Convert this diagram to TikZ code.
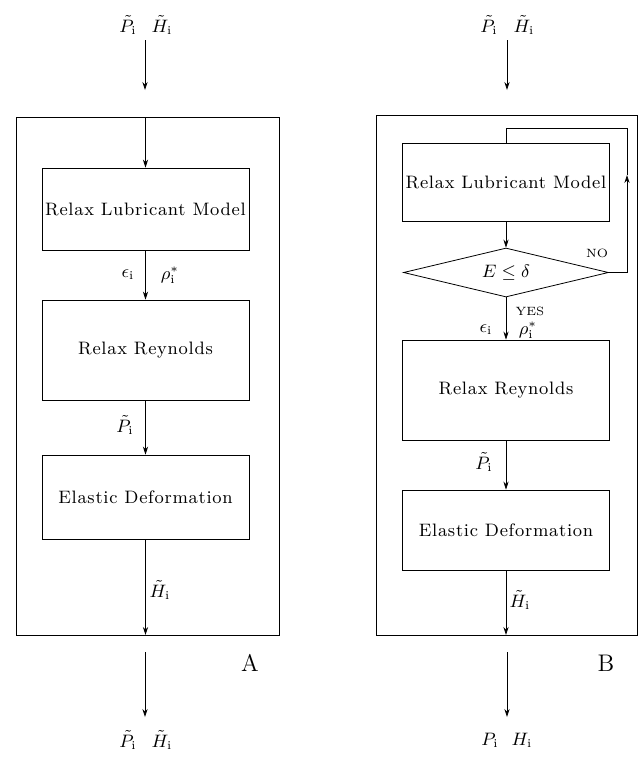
\documentclass[tikz,border=0pt]{standalone}
\usepackage{amsmath,amssymb}
\usepackage{fontspec}
\usepackage{tikz}
\usetikzlibrary{arrows.meta,positioning,shapes.geometric}
\newfontfamily\boxfont{Latin Modern Roman}[LetterSpace=4]

\begin{document}
\begin{tikzpicture}[
  x=0.5pt, y=-0.5pt,
  font=\fontsize{9}{11}\selectfont,
  block/.style={draw, thin, minimum width=103.5pt, inner sep=1pt, font=\boxfont\fontsize{9}{11}\selectfont},
  frame/.style={draw, thin},
  test/.style={draw, thin, diamond, aspect=4, minimum width=102.5pt, minimum height=24.5pt, inner sep=0pt},
  flow/.style={thin, -{Stealth[length=4pt,width=2.6pt]}},
  plain/.style={thin},
  varlabel/.style={inner sep=1pt},
  tag/.style={font=\fontsize{6}{7}\selectfont},
  panel/.style={font=\fontsize{12}{14}\selectfont}
]
\useasboundingbox (0,0) rectangle (641,757);

% ---------------- Scheme A ----------------
\node[varlabel] (inPA) at (128,25) {$\tilde{P}_{\mathrm{i}}$};
\node[varlabel] (inHA) at (162,25) {$\tilde{H}_{\mathrm{i}}$};
\coordinate (inAtail) at (145,40);
\coordinate (inAhead) at (145,90);
\draw[flow] (inAtail) -- (inAhead);

\draw[frame] (16,117) rectangle (279,635);
\coordinate (frameAtop) at (145.5,117);
\coordinate (frameAbot) at (145.5,635);

\node[block, minimum height=41pt] (rlmA) at (145.5,209) {Relax Lubricant Model};
\node[block, minimum height=50pt] (rrA) at (145.5,350) {Relax Reynolds};
\node[block, minimum height=42pt] (edA) at (145.5,497) {Elastic Deformation};

\draw[flow] (frameAtop) -- (rlmA);
\draw[flow] (rlmA) -- (rrA);
\draw[flow] (rrA) -- (edA);
\draw[flow] (edA) -- (frameAbot);

\node[varlabel] (epsA) at (128,275) {$\epsilon_{\mathrm{i}}$};
\node[varlabel] (rhoA) at (170,275) {$\rho_{\mathrm{i}}^{*}$};
\node[varlabel] (pA) at (125,425) {$\tilde{P}_{\mathrm{i}}$};
\node[varlabel] (hA) at (160,590) {$\tilde{H}_{\mathrm{i}}$};

\node[panel] (labA) at (250,663) {A};

\coordinate (outAtail) at (145,652);
\coordinate (outAhead) at (145,717);
\draw[flow] (outAtail) -- (outAhead);
\node[varlabel] (outPA) at (128,740) {$\tilde{P}_{\mathrm{i}}$};
\node[varlabel] (outHA) at (162,740) {$\tilde{H}_{\mathrm{i}}$};

% ---------------- Scheme B ----------------
\node[varlabel] (inPB) at (489,25) {$\tilde{P}_{\mathrm{i}}$};
\node[varlabel] (inHB) at (524,25) {$\tilde{H}_{\mathrm{i}}$};
\coordinate (inBtail) at (507,40);
\coordinate (inBhead) at (507,90);
\draw[flow] (inBtail) -- (inBhead);

\draw[frame] (376,115) rectangle (637,635);

\node[block, minimum height=39pt] (rlmB) at (506,182) {Relax Lubricant Model};
\node[test] (chk) at (506,272.5) {$E\leq\delta$};
\node[block, minimum height=50pt] (rrB) at (506,390) {Relax Reynolds};
\node[block, minimum height=40pt] (edB) at (506,530) {Elastic Deformation};

\draw[flow] (rlmB) -- (chk);
\draw[flow] (chk) -- (rrB);
\draw[flow] (rrB) -- (edB);

% iteration loop
\coordinate (loopA) at (627,272.5);
\coordinate (loopB) at (627,175);
\coordinate (loopC) at (627,128);
\draw[flow] (chk.east) -- (loopA) -- (loopB);
\draw[plain] (loopB) -- (loopC) -| (rlmB.north);
\node[tag] (no) at (597,253) {NO};
\node[tag] (yes) at (530,311) {YES};

\node[varlabel] (epsB) at (486,330) {$\epsilon_{\mathrm{i}}$};
\node[varlabel] (rhoB) at (528,330) {$\rho_{\mathrm{i}}^{*}$};
\node[varlabel] (pB) at (484,462) {$\tilde{P}_{\mathrm{i}}$};
\coordinate (frameBbot) at (506,635);
\draw[flow] (edB) -- (frameBbot);
\node[varlabel] (hB) at (520,600) {$\tilde{H}_{\mathrm{i}}$};

\node[panel] (labB) at (606,663) {B};

\coordinate (outBtail) at (507,652);
\coordinate (outBhead) at (507,717);
\draw[flow] (outBtail) -- (outBhead);
\node[varlabel] (outPB) at (490,740) {$P_{\mathrm{i}}$};
\node[varlabel] (outHB) at (522,740) {$H_{\mathrm{i}}$};

\end{tikzpicture}
\end{document}
